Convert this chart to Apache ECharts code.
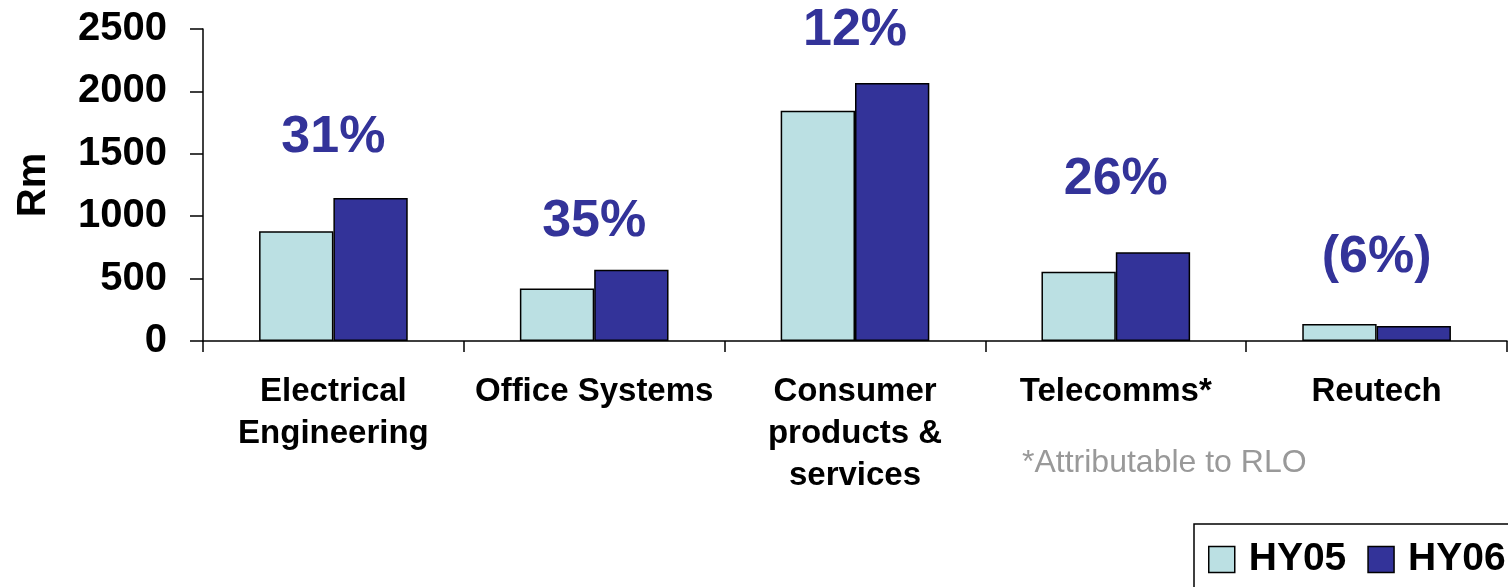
<!DOCTYPE html>
<html>
<head>
<meta charset="utf-8">
<script src="https://cdn.jsdelivr.net/npm/echarts@6/dist/echarts.min.js"></script>
<style>
html,body{margin:0;padding:0;background:#fff;}
#chart{width:1508px;height:587px;}
</style>
</head>
<body>
<div id="chart"></div>
<script>
const categories = ['Electrical\nEngineering', 'Office Systems', 'Consumer\nproducts &\nservices', 'Telecomms*', 'Reutech'];
const hy05 = [880, 420, 1845, 555, 136];
const hy06 = [1146, 571, 2067, 711, 120];
const growthLabels = ['31%', '35%', '12%', '26%', '(6%)'];
const growthLabelLevel = [1630, 953, 2490, 1290, 665];
const yTicks = [0, 500, 1000, 1500, 2000, 2500];

const font = '"Liberation Sans", Arial, sans-serif';
const chart = echarts.init(document.getElementById('chart'));
chart.setOption({
  animation: false,
  backgroundColor: '#ffffff',
  textStyle: { fontFamily: font },
  grid: { left: 203, right: 1, top: 29, bottom: 246, containLabel: false, outerBoundsMode: 'none' },
  legend: {
    data: ['HY05', 'HY06'],
    left: 1194, top: 524, width: 400,
    orient: 'horizontal',
    padding: [16, 80, 30, 14],
    borderColor: '#000', borderWidth: 1.5,
    itemWidth: 26, itemHeight: 26, itemGap: 21,
    icon: 'rect',
    itemStyle: { borderColor: '#000', borderWidth: 1.5 },
    textStyle: { fontFamily: font, fontSize: 39, fontWeight: 'bold', color: '#000', padding: [0, 0, 0, 9] }
  },
  xAxis: {
    type: 'category',
    data: categories,
    axisLine: { lineStyle: { color: '#000', width: 1.5 } },
    axisTick: { show: true, length: 11, lineStyle: { color: '#000', width: 1.5 } },
    axisLabel: { margin: 30, fontFamily: font, fontSize: 33, fontWeight: 'bold', color: '#000', lineHeight: 42, interval: 0 }
  },
  yAxis: {
    type: 'value',
    min: 0, max: 2500, interval: 500,
    name: 'Rm', nameLocation: 'middle', nameGap: 149, nameRotate: 90,
    nameTextStyle: { fontFamily: font, fontSize: 40, fontWeight: 'bold', color: '#000' },
    axisLine: { show: true, lineStyle: { color: '#000', width: 1.5 } },
    axisTick: { show: true, length: 13, lineStyle: { color: '#000', width: 1.5 } },
    splitLine: { show: false },
    axisLabel: { margin: 36, fontFamily: font, fontSize: 40, fontWeight: 'bold', color: '#000',
      formatter: v => yTicks.includes(v) ? String(v) : '' }
  },
  series: [
    { name: 'HY05', type: 'bar', data: hy05, barGap: '0%', barCategoryGap: '43%',
      itemStyle: { color: '#BBE0E3', borderColor: '#000', borderWidth: 1.5 } },
    { name: 'HY06', type: 'bar', data: hy06, barGap: '0%', barCategoryGap: '43%',
      itemStyle: { color: '#333399', borderColor: '#000', borderWidth: 1.5 } },
    { name: 'growth', type: 'scatter', symbolSize: 0, silent: true,
      itemStyle: { opacity: 1 },
      data: growthLabelLevel.map((v, i) => [i, v]),
      label: { show: true, position: 'inside', fontFamily: font, fontSize: 52, fontWeight: 'bold', color: '#333399',
        formatter: p => growthLabels[p.dataIndex] } }
  ],
  graphic: [
    { type: 'text', left: 1022, top: 447,
      style: { text: '*Attributable to RLO', fontFamily: font, fontSize: 32, fill: '#999999' } }
  ]
});
</script>
</body>
</html>
